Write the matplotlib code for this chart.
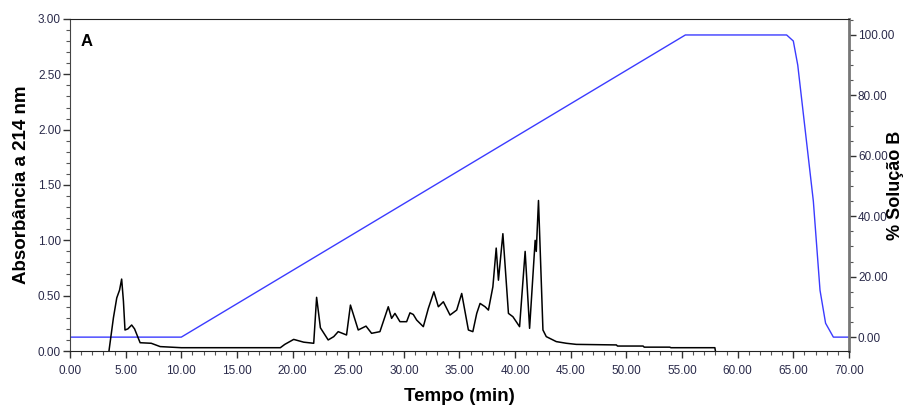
import matplotlib.pyplot as plt
from matplotlib.ticker import MultipleLocator, FormatStrFormatter

# Dados - cromatograma (tempo em min, absorbância a 214 nm)
tempo = [3.5, 3.9, 4.2, 4.45, 4.64, 4.8, 4.94, 5.2, 5.54, 5.8, 6.3, 7.3, 8.1, 10.0, 15.0, 18.9,
         19.3, 20.1, 21.0, 21.9, 22.16, 22.5, 23.2, 23.7, 24.1, 24.85, 25.2, 25.9, 26.6,
         27.1, 27.85, 28.6, 28.9, 29.2, 29.65, 30.25, 30.55, 30.85, 31.15, 31.75, 32.2,
         32.7, 33.1, 33.55, 34.15, 34.75, 35.2, 35.8, 36.2, 36.55, 36.85, 37.3, 37.6, 38.0,
         38.3, 38.5, 38.9, 39.4, 39.8, 40.4, 40.9, 41.3, 41.8, 41.9, 42.1, 42.5, 42.8,
         43.7, 44.6, 45.5, 49.1, 49.2, 51.5, 51.6, 53.9, 54.0, 57.95, 58.0]
absorb = [0.0, 0.3, 0.48, 0.55, 0.65, 0.45, 0.19, 0.2, 0.235, 0.2, 0.075, 0.07, 0.04, 0.03, 0.03, 0.03,
          0.06, 0.105, 0.08, 0.07, 0.485, 0.21, 0.10, 0.13, 0.175, 0.145, 0.415, 0.19, 0.225,
          0.16, 0.175, 0.40, 0.295, 0.34, 0.265, 0.265, 0.345, 0.33, 0.28, 0.22, 0.385,
          0.535, 0.40, 0.445, 0.325, 0.37, 0.52, 0.19, 0.175, 0.34, 0.43, 0.40, 0.37, 0.58,
          0.93, 0.64, 1.06, 0.34, 0.31, 0.22, 0.90, 0.205, 1.00, 0.90, 1.36, 0.19, 0.13,
          0.085, 0.07, 0.06, 0.055, 0.045, 0.045, 0.035, 0.035, 0.03, 0.03, 0.0]

# Gradiente (% Solução B)
tempo_grad = [0.0, 10.0, 55.3, 64.4, 65.0, 65.4, 66.8, 67.4, 67.9, 68.6, 70.0]
solucao_b = [0.0, 0.0, 100.0, 100.0, 98.0, 90.0, 45.0, 15.5, 4.6, 0.0, 0.0]

plt.rcParams['font.family'] = ['Liberation Sans', 'DejaVu Sans']
cor_tick = '#2a2a4a'

fig = plt.figure(figsize=(9.07, 4.12), dpi=100)
ax = fig.add_axes([0.0772, 0.148, 0.8588, 0.806])
ax2 = ax.twinx()

ax.plot(tempo, absorb, color='black', linewidth=1.1, zorder=3)
ax2.plot(tempo_grad, solucao_b, color='#3b3bff', linewidth=1.0)

ax.set_zorder(ax2.get_zorder() + 1)
ax.patch.set_visible(False)

ax.set_xlim(0, 70)
ax.set_ylim(0, 3.0)
ax2.set_ylim(-4.6, 105.3)

ax.xaxis.set_major_locator(MultipleLocator(5))
ax.xaxis.set_minor_locator(MultipleLocator(1))
ax.yaxis.set_major_locator(MultipleLocator(0.5))
ax.yaxis.set_minor_locator(MultipleLocator(0.1))
ax2.yaxis.set_minor_locator(MultipleLocator(5))
ax2.set_yticks([0, 20, 40, 60, 80, 100])
ax.xaxis.set_major_formatter(FormatStrFormatter('%.2f'))
ax.yaxis.set_major_formatter(FormatStrFormatter('%.2f'))
ax2.yaxis.set_major_formatter(FormatStrFormatter('%.2f'))

for a in (ax, ax2):
    a.tick_params(which='major', length=5, width=1, labelsize=8.5, labelcolor=cor_tick,
                  color='#333333', pad=1.5)
    a.tick_params(which='minor', length=3, width=0.8, color='#555555')
ax.tick_params(axis='x', which='major', pad=5)

ax.spines['left'].set_color('#444444')
ax.spines['bottom'].set_color('#222222')
ax.spines['top'].set_color('#222222')
ax.spines['right'].set_visible(False)
ax2.spines['right'].set_color('#777777')
ax2.spines['right'].set_linewidth(2)
for s in ('left', 'bottom', 'top'):
    ax2.spines[s].set_visible(False)

ax.set_xlabel('Tempo (min)', fontsize=13.5, fontweight='bold', labelpad=8)
ax.set_ylabel('Absorbância a 214 nm', fontsize=13.5, fontweight='bold', labelpad=6)
ax2.set_ylabel('% Solução B', fontsize=13, fontweight='bold')
ax2.yaxis.set_label_coords(1.0485, 0.5)

ax.text(0.013, 0.955, 'A', transform=ax.transAxes, fontsize=12, fontweight='bold',
        va='top', ha='left')

fig.savefig('out.png', dpi=100)
